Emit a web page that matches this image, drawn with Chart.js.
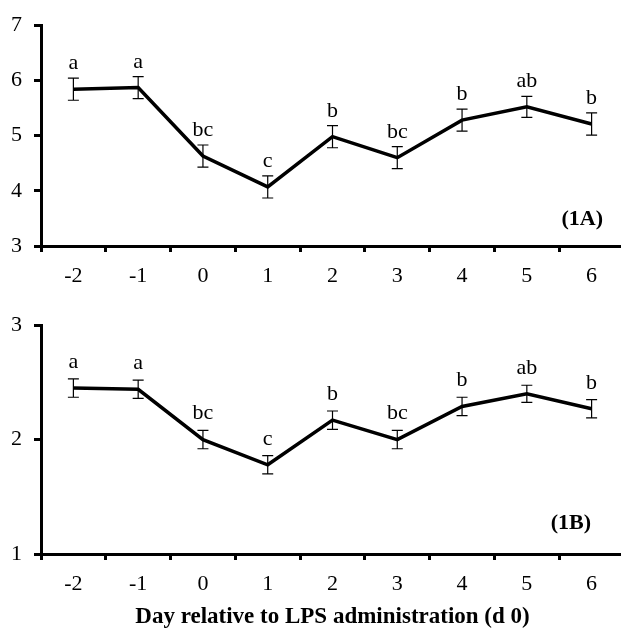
<!DOCTYPE html>
<html>
<head>
<meta charset="utf-8">
<script src="https://cdn.jsdelivr.net/npm/chart.js@4/dist/chart.umd.min.js"></script>
<style>
  html, body { margin: 0; padding: 0; background: #fff; }
  #wrap { position: relative; width: 621px; height: 633px; overflow: hidden; background: #fff; }
  .box { position: absolute; left: 0; }
</style>
</head>
<body>
<div id="wrap">
  <div class="box" style="top:0;width:624px;height:300px"><canvas id="cA" width="624" height="300"></canvas></div>
  <div class="box" style="top:300px;width:624px;height:333px"><canvas id="cB" width="624" height="333"></canvas></div>
</div>
<script>
// ---- data ----
const days = ['-2', '-1', '0', '1', '2', '3', '4', '5', '6'];
const meanA = [5.84, 5.87, 4.63, 4.07, 4.98, 4.60, 5.28, 5.52, 5.21];
const seA   = [0.20, 0.20, 0.20, 0.20, 0.20, 0.20, 0.20, 0.19, 0.20];
const lettersA = ['a', 'a', 'bc', 'c', 'b', 'bc', 'b', 'ab', 'b'];
const meanB = [2.45, 2.44, 2.00, 1.78, 2.17, 2.00, 2.29, 2.40, 2.27];
const seB   = [0.08, 0.08, 0.08, 0.08, 0.08, 0.08, 0.08, 0.075, 0.08];
const lettersB = ['a', 'a', 'bc', 'c', 'b', 'bc', 'b', 'ab', 'b'];
const yTicksA = [3, 4, 5, 6, 7];
const yTicksB = [1, 2, 3];
const panelA = '(1A)';
const panelB = '(1B)';
const xTitle = 'Day relative to LPS administration (d 0)';

const FONT = '"Liberation Serif", "Times New Roman", serif';

function errPlugin(se, letters, panel, gap, panelDX, panelDY) {
  return {
    id: 'err',
    afterDatasetsDraw(chart) {
      const ctx = chart.ctx;
      const ys = chart.scales.y;
      const meta = chart.getDatasetMeta(0);
      const data = chart.data.datasets[0].data;
      ctx.save();
      ctx.strokeStyle = '#000';
      ctx.lineWidth = 1.2;
      ctx.fillStyle = '#000';
      ctx.font = '22px ' + FONT;
      ctx.textAlign = 'center';
      ctx.textBaseline = 'alphabetic';
      meta.data.forEach((pt, i) => {
        const x = pt.x;
        const yt = ys.getPixelForValue(data[i] + se[i]);
        const yb = ys.getPixelForValue(data[i] - se[i]);
        ctx.beginPath();
        ctx.moveTo(x, yt); ctx.lineTo(x, yb);
        ctx.moveTo(x - 5.5, yt); ctx.lineTo(x + 5.5, yt);
        ctx.moveTo(x - 5.5, yb); ctx.lineTo(x + 5.5, yb);
        ctx.stroke();
        ctx.fillText(letters[i], x, yt - gap);
      });
      ctx.font = 'bold 22px ' + FONT;
      ctx.textAlign = 'right';
      ctx.textBaseline = 'middle';
      ctx.fillText(panel, chart.chartArea.right - panelDX, chart.chartArea.bottom - panelDY);
      ctx.restore();
    }
  };
}

function makeChart(id, mean, se, letters, yTicks, panel, opts) {
  return new Chart(document.getElementById(id), {
    type: 'line',
    data: {
      labels: days,
      datasets: [{
        data: mean,
        borderColor: '#000',
        borderWidth: 3.5,
        pointRadius: 0,
        tension: 0,
        fill: false
      }]
    },
    options: {
      responsive: false,
      animation: false,
      devicePixelRatio: 1,
      layout: { padding: { top: opts.padTop, left: 0, right: 0, bottom: 0 } },
      plugins: { legend: { display: false }, tooltip: { enabled: false } },
      scales: {
        x: {
          type: 'category',
          offset: true,
          grid: { offset: true, drawOnChartArea: false, drawTicks: true, tickLength: 6, lineWidth: 3, color: '#000' },
          border: { display: true, width: 3, color: '#000' },
          ticks: { color: '#000', font: { family: FONT, size: 22 }, padding: 11, maxRotation: 0 },
          title: opts.title ? { display: true, text: xTitle, color: '#000', font: { family: FONT, size: 23, weight: 'bold' }, padding: { top: 0, bottom: 2 } } : { display: false },
          afterFit(s) { s.height = opts.xHeight; }
        },
        y: {
          min: yTicks[0],
          max: yTicks[yTicks.length - 1],
          afterBuildTicks(s) { s.ticks = yTicks.map(v => ({ value: v })); },
          grid: { drawOnChartArea: false, drawTicks: true, tickLength: 7, lineWidth: 3, color: '#000' },
          border: { display: true, width: 3, color: '#000' },
          ticks: { color: '#000', font: { family: FONT, size: 22 }, padding: 12 },
          afterFit(s) { s.width = 41; }
        }
      }
    },
    plugins: [errPlugin(se, letters, panel, opts.gap, opts.panelDX, opts.panelDY)]
  });
}

makeChart('cA', meanA, seA, lettersA, yTicksA, panelA, { padTop: 16, xHeight: 54, title: false, gap: 9, panelDX: 21, panelDY: 27 });
makeChart('cB', meanB, seB, lettersB, yTicksB, panelB, { padTop: 22, xHeight: 79, title: true, gap: 11, panelDX: 33, panelDY: 31 });
</script>
</body>
</html>
